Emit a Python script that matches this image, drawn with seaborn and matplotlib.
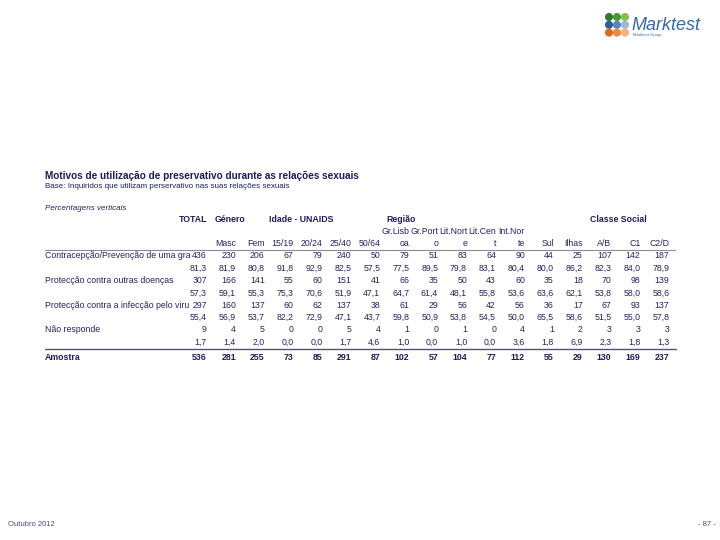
import numpy as np
import pandas as pd
import matplotlib
matplotlib.use("Agg")
import matplotlib.pyplot as plt
import seaborn as sns

# table content
head_top = ["", "", "", "", "", "", "", "Gr.Lisb", "Gr.Port", "Lit.Nort", "Lit.Cen", "Int.Nor", "", "", "", "", ""]
head_bot = ["", "Masc", "Fem", "15/19", "20/24", "25/40", "50/64", "oa", "o", "e", "t", "te", "Sul", "Ilhas", "A/B", "C1", "C2/D"]

row_labels = ["Contracepção/Prevenção de uma gra", "Protecção contra outras doenças",
              "Protecção contra a infecção pelo viru", "Não responde"]

contracepcao_n = [436, 230, 206, 67, 79, 240, 50, 79, 51, 83, 64, 90, 44, 25, 107, 142, 187]
contracepcao_p = [81.3, 81.9, 80.8, 91.8, 92.9, 82.5, 57.5, 77.5, 89.5, 79.8, 83.1, 80.4, 80.0, 86.2, 82.3, 84.0, 78.9]
doencas_n = [307, 166, 141, 55, 60, 151, 41, 66, 35, 50, 43, 60, 35, 18, 70, 98, 139]
doencas_p = [57.3, 59.1, 55.3, 75.3, 70.6, 51.9, 47.1, 64.7, 61.4, 48.1, 55.8, 53.6, 63.6, 62.1, 53.8, 58.0, 58.6]
virus_n = [297, 160, 137, 60, 62, 137, 38, 61, 29, 56, 42, 56, 36, 17, 67, 93, 137]
virus_p = [55.4, 56.9, 53.7, 82.2, 72.9, 47.1, 43.7, 59.8, 50.9, 53.8, 54.5, 50.0, 65.5, 58.6, 51.5, 55.0, 57.8]
nr_n = [9, 4, 5, 0, 0, 5, 4, 1, 0, 1, 0, 4, 1, 2, 3, 3, 3]
nr_p = [1.7, 1.4, 2.0, 0.0, 0.0, 1.7, 4.6, 1.0, 0.0, 1.0, 0.0, 3.6, 1.8, 6.9, 2.3, 1.8, 1.3]
amostra = [536, 281, 255, 73, 85, 291, 87, 102, 57, 104, 77, 112, 55, 29, 130, 169, 237]

groups = ["TOTAL", "Género", "Idade - UNAIDS", "Região", "Classe Social"]

sns.set_theme(style="white")
plt.rcParams['font.family'] = ['Liberation Sans', 'DejaVu Sans']

navy = "#1c1c5a"
txt = "#24245e"

fig = plt.figure(figsize=(7.2, 5.4), dpi=100)
ax = fig.add_axes([0, 0, 1, 1])
ax.set_xlim(0, 720)
ax.set_ylim(540, 0)
ax.axis("off")

# logo
gx, gy = np.meshgrid(np.arange(3), np.arange(3))
logo = pd.DataFrame({"x": 609 + 8 * gx.ravel(), "y": 17 + 7.8 * gy.ravel(),
                     "c": ["#2f7a2c", "#4a9a32", "#86bf4a",
                           "#2c5d9c", "#5a86c4", "#9fb9dd",
                           "#e2661c", "#ef8a3a", "#f4b27c"]})
sns.scatterplot(data=logo, x="x", y="y", hue="c", palette=dict(zip(logo.c, logo.c)),
                s=34, legend=False, ax=ax, linewidth=0)
ax.text(631, 25, "Marktest", fontsize=13, style="italic", color="#3569ad", va="center", ha="left")
ax.text(633, 35, "Marktest Group", fontsize=3, color="#3569ad", va="center", ha="left")

# titles
ax.text(45, 176, "Motivos de utilização de preservativo durante as relações sexuais",
        fontsize=7.2, fontweight="bold", color=navy, va="center")
ax.text(45, 187, "Base: Inquiridos que utilizam perservativo nas suas relações sexuais",
        fontsize=5.8, color=navy, va="center")
ax.text(45, 208, "Percentagens verticais", fontsize=5.8, style="italic", color=txt, va="center")

colx = 207 + 28.9 * np.arange(len(amostra))
fs = 6.3

# group headers
ax.text(colx[0], 220, groups[0], fontsize=fs, fontweight="bold", color=navy, ha="right", va="center")
ax.text(215, 220, groups[1], fontsize=fs, fontweight="bold", color=navy, ha="left", va="center")
ax.text(269, 220, groups[2], fontsize=fs, fontweight="bold", color=navy, ha="left", va="center")
ax.text(386, 220, groups[3], fontsize=fs, fontweight="bold", color=navy, ha="left", va="center")
ax.text(590, 220, groups[4], fontsize=fs, fontweight="bold", color=navy, ha="left", va="center")

for x, t, b in zip(colx, head_top, head_bot):
    ax.text(x, 231, t, fontsize=fs, color=txt, ha="right", va="center")
    ax.text(x, 243, b, fontsize=fs, color=txt, ha="right", va="center")

ax.plot([45, 675], [249.5, 249.5], color="#8a8a9a", lw=0.8)

fmt = lambda v: f"{v:.1f}".replace(".", ",")
rows = [(contracepcao_n, contracepcao_p), (doencas_n, doencas_p),
        (virus_n, virus_p), (nr_n, nr_p)]
y = 256
for lab, (n, p) in zip(row_labels, rows):
    ax.text(45, y, lab, fontsize=fs, color=txt, va="center")
    for x, v in zip(colx, n):
        ax.text(x, y, str(v), fontsize=fs, color=txt, ha="right", va="center")
    for x, v in zip(colx, p):
        ax.text(x, y + 12.3, fmt(v), fontsize=fs, color=txt, ha="right", va="center")
    y += 24.6

ax.plot([45, 676], [348.5, 348.5], color="#55556a", lw=1)
ax.text(45, 357, "Amostra", fontsize=fs, fontweight="bold", color=navy, va="center")
for x, v in zip(colx, amostra):
    ax.text(x, 357, str(v), fontsize=fs, fontweight="bold", color=navy, ha="right", va="center")

# footer
ax.text(8, 524, "Outubro 2012", fontsize=5.5, color="#40507a", va="center")
ax.text(716, 524, "- 87 -", fontsize=5.5, color="#40507a", va="center", ha="right")

fig.savefig("out.png", dpi=100)
